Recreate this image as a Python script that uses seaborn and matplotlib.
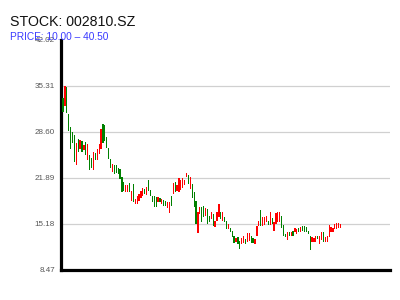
import numpy as np
import pandas as pd
import seaborn as sns
import matplotlib
matplotlib.use("Agg")
import matplotlib.pyplot as plt

title = "STOCK: 002810.SZ"
subtitle = "PRICE: 10.00 \u2013 40.50"
y_ticks = [8.47, 15.18, 21.89, 28.60, 35.31, 42.02]

open_ = [33.56, 32.40, 35.17, 31.23, 29.33, 28.60, 28.17, 23.79, 27.58, 26.12,
         27.29, 25.98, 27.14, 24.52, 25.25, 24.81, 23.06, 25.54, 24.52, 25.39,
         26.12, 29.77, 29.62, 27.87, 26.27, 24.66, 22.77, 23.79, 23.79, 23.35,
         23.20, 22.04, 21.31, 19.85, 19.85, 21.16, 18.54, 21.02, 18.10, 18.10,
         18.54, 18.97, 19.27, 20.29, 19.41, 21.60, 20.14, 19.27, 19.27, 19.12,
         18.39, 18.97, 18.10, 18.68, 18.54, 17.51, 16.78, 19.27, 19.56, 21.31,
         19.99, 19.85, 20.14, 20.43, 20.87, 22.04, 22.33, 20.29, 21.02, 19.85,
         18.54, 13.87, 16.64, 17.66, 17.81, 16.35, 17.37, 16.35, 15.91, 16.64,
         14.74, 15.62, 16.20, 16.93, 15.62, 16.20, 15.62, 14.45, 14.60, 14.16,
         13.43, 12.55, 13.28, 12.70, 12.26, 12.41, 12.99, 12.55, 12.70, 13.43,
         13.14, 12.26, 13.43, 14.89, 17.22, 14.89, 15.03, 15.47, 15.62, 15.03,
         16.06, 14.16, 15.18, 15.47, 15.47, 16.35, 15.03, 13.72, 12.85, 14.01,
         13.43, 14.16, 14.01, 13.72, 14.60, 14.01, 14.89, 14.89, 14.74, 14.16,
         13.43, 12.55, 12.55, 12.55, 13.43, 12.26, 12.85, 14.01, 12.55, 12.55,
         13.28, 14.01, 14.01, 14.45, 14.45, 14.60, 14.60]
close_ = [31.52, 35.31, 31.37, 28.75, 26.12, 27.00, 24.23, 27.00, 25.68, 27.44,
          25.68, 26.71, 25.25, 26.85, 23.06, 23.35, 25.68, 24.52, 26.12, 26.85,
          29.04, 27.00, 27.29, 26.27, 24.66, 23.35, 23.93, 22.48, 22.62, 22.48,
          21.75, 19.85, 19.99, 20.87, 20.87, 19.85, 19.99, 18.39, 18.83, 19.27,
          19.56, 19.99, 20.43, 19.56, 20.58, 19.99, 19.27, 18.39, 17.66, 17.66,
          19.12, 18.39, 18.83, 17.81, 17.81, 18.39, 18.39, 17.81, 21.16, 19.85,
          20.87, 21.89, 21.60, 21.89, 21.60, 22.62, 21.02, 22.04, 18.97, 17.66,
          15.18, 16.93, 17.66, 15.47, 16.20, 17.51, 15.18, 15.47, 16.93, 14.89,
          15.62, 16.93, 18.10, 15.91, 16.93, 15.47, 14.45, 15.18, 14.01, 13.28,
          12.41, 13.14, 12.26, 11.53, 13.14, 13.43, 12.26, 13.87, 13.87, 12.41,
          12.41, 12.99, 14.89, 15.62, 14.89, 16.20, 16.20, 16.35, 15.03, 16.93,
          15.18, 15.47, 16.78, 16.93, 16.93, 14.60, 13.43, 13.28, 14.01, 13.43,
          14.01, 13.43, 14.60, 14.45, 14.01, 14.74, 14.16, 14.01, 14.01, 13.72,
          11.39, 13.28, 13.14, 13.43, 12.99, 13.43, 14.01, 12.55, 13.28, 13.43,
          15.03, 14.74, 14.60, 15.18, 15.33, 15.33, 15.18]

df = pd.DataFrame({"open": open_, "close": close_})
df["idx"] = np.arange(len(df))
df["low"] = df[["open", "close"]].min(axis=1)
df["body"] = (df["close"] - df["open"]).abs()
df["color"] = np.where(df["close"] >= df["open"], "#ff0000", "#008000")

sns.set_theme(style="white")
plt.rcParams["font.family"] = ["Liberation Sans", "DejaVu Sans"]

fig = plt.figure(figsize=(4, 3), dpi=100)
ax = fig.add_axes([0.1525, 0.1, 0.8225, 0.7667])

for t in y_ticks[1:-1]:
    ax.axhline(t, color="#d0d0d0", linewidth=0.9, zorder=0)

ax.bar(df["idx"], df["body"], bottom=df["low"], width=0.65,
       color=df["color"], linewidth=0, zorder=3)

ax.set_xlim(-1.05, 172)
ax.set_ylim(y_ticks[0], y_ticks[-1])
ax.set_yticks(y_ticks)
ax.set_yticklabels([f"{v:.2f}" for v in y_ticks], fontsize=5.8, color="#555555")
ax.set_xticks([])
ax.tick_params(axis="y", length=0, pad=4.5)
ax.grid(False)

for s in ["top", "right"]:
    ax.spines[s].set_visible(False)
for s in ["left", "bottom"]:
    ax.spines[s].set_color("black")
    ax.spines[s].set_linewidth(2.3)

fig.text(10 / 400, 1 - 26 / 300, title, fontsize=10.2, color="#111111",
         ha="left", va="baseline")
fig.text(10 / 400, 1 - 40 / 300, subtitle, fontsize=7.3, color="#3a3aff",
         ha="left", va="baseline")

fig.savefig("out.png", dpi=100)
